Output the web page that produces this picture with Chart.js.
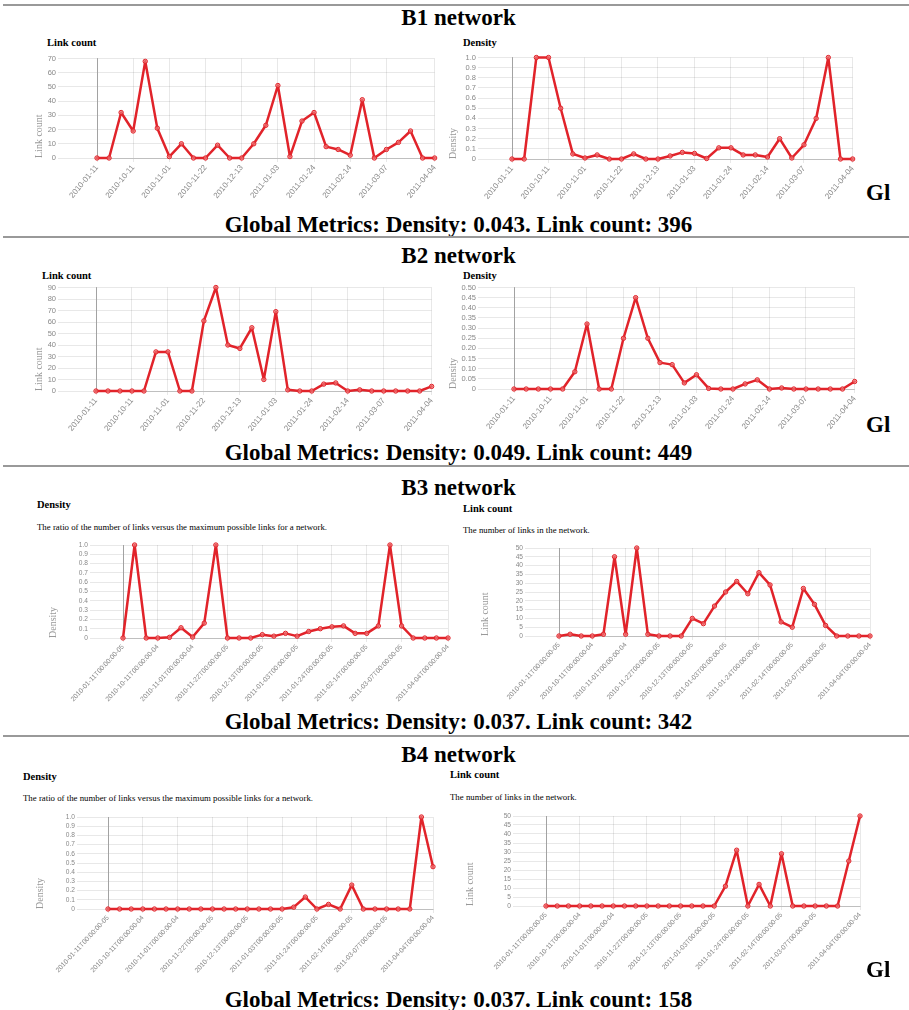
<!DOCTYPE html>
<html>
<head>
<meta charset="utf-8">
<script src="https://cdn.jsdelivr.net/npm/chart.js@4.4.0/dist/chart.umd.min.js"></script>
<style>
  body { margin: 0; background: #fff; }
  #page { position: relative; width: 909px; height: 1010px; overflow: hidden; font-family: "Liberation Serif", "Times New Roman", serif; color: #000; }
  .rule { position: absolute; left: 3px; width: 906px; height: 2px; background: #999; }
  .head { position: absolute; left: 4px; width: 909px; text-align: center; font-weight: bold; font-size: 23px; line-height: 22px; white-space: nowrap; }
  .gl { position: absolute; left: 866px; font-weight: bold; font-size: 23px; line-height: 22px; }
  .ct { position: absolute; font-weight: bold; font-size: 10.5px; line-height: 11px; white-space: nowrap; }
  .desc { position: absolute; font-size: 8.8px; line-height: 9px; white-space: nowrap; }
  canvas { position: absolute; }
</style>
</head>
<body>
<div id="page">
  <div class="rule" style="top:4px"></div>
  <div class="head" style="top:7px">B1 network</div>
  <div class="ct" style="left:47px;top:37px">Link count</div>
  <div class="ct" style="left:463px;top:37px">Density</div>
  <canvas id="b1l"></canvas>
  <canvas id="b1r"></canvas>
  <div class="gl" style="top:182px">Gl</div>
  <div class="head" style="top:214px">Global Metrics: Density: 0.043. Link count: 396</div>

  <div class="rule" style="top:236px"></div>
  <div class="head" style="top:245px">B2 network</div>
  <div class="ct" style="left:42px;top:270px">Link count</div>
  <div class="ct" style="left:463px;top:270px">Density</div>
  <canvas id="b2l"></canvas>
  <canvas id="b2r"></canvas>
  <div class="gl" style="top:414px">Gl</div>
  <div class="head" style="top:442px">Global Metrics: Density: 0.049. Link count: 449</div>

  <div class="rule" style="top:465px"></div>
  <div class="head" style="top:477px">B3 network</div>
  <div class="ct" style="left:37px;top:499px">Density</div>
  <div class="desc" style="left:37px;top:523px">The ratio of the number of links versus the maximum possible links for a network.</div>
  <div class="ct" style="left:463px;top:503px">Link count</div>
  <div class="desc" style="left:463px;top:526px">The number of links in the network.</div>
  <canvas id="b3l"></canvas>
  <canvas id="b3r"></canvas>
  <div class="head" style="top:711px">Global Metrics: Density: 0.037. Link count: 342</div>

  <div class="rule" style="top:735px"></div>
  <div class="head" style="top:744px">B4 network</div>
  <div class="ct" style="left:23px;top:771px">Density</div>
  <div class="desc" style="left:23px;top:794px">The ratio of the number of links versus the maximum possible links for a network.</div>
  <div class="ct" style="left:450px;top:769px">Link count</div>
  <div class="desc" style="left:450px;top:793px">The number of links in the network.</div>
  <canvas id="b4l"></canvas>
  <canvas id="b4r"></canvas>
  <div class="gl" style="top:959px">Gl</div>
  <div class="head" style="top:989px">Global Metrics: Density: 0.037. Link count: 158</div>
</div>

<script>
// weekly snapshots (x axis)
const weekDates = [
  '2010-01-11', '2010-09-27', '2010-10-04', '2010-10-11', '2010-10-18', '2010-10-25',
  '2010-11-01', '2010-11-08', '2010-11-15', '2010-11-22', '2010-11-29', '2010-12-06',
  '2010-12-13', '2010-12-20', '2010-12-27', '2011-01-03', '2011-01-10', '2011-01-17',
  '2011-01-24', '2011-01-31', '2011-02-07', '2011-02-14', '2011-02-21', '2011-02-28',
  '2011-03-07', '2011-03-14', '2011-03-21', '2011-03-28', '2011-04-04'
];
// which x labels are printed
const shownTicks = [0, 3, 6, 9, 12, 15, 18, 21, 24, 28];

const b1Links   = [0, 0, 32, 19, 68, 21, 1, 10, 0, 0, 9, 0, 0, 10, 23, 51, 1, 26, 32, 8, 6, 2, 41, 0, 6, 11, 19, 0, 0];
const b1Density = [0, 0, 1.0, 1.0, 0.5, 0.05, 0.01, 0.04, 0, 0, 0.05, 0, 0, 0.03, 0.065, 0.055, 0.005, 0.11, 0.11, 0.04, 0.04, 0.02, 0.2, 0.01, 0.14, 0.4, 1.0, 0, 0];

const b2Links   = [0, 0, 0, 0, 0, 34, 34, 0, 0, 61, 90, 40, 37, 55, 10, 69, 1, 0, 0, 6, 7, 0, 1, 0, 0, 0, 0, 0, 4];
const b2Density = [0, 0, 0, 0, 0, 0.085, 0.32, 0, 0, 0.25, 0.45, 0.25, 0.13, 0.12, 0.03, 0.07, 0.003, 0, 0, 0.025, 0.045, 0, 0.005, 0, 0, 0, 0, 0, 0.037];

const b3Density = [0, 1.0, 0, 0, 0.007, 0.11, 0.01, 0.16, 1.0, 0, 0, 0, 0.036, 0.02, 0.05, 0.02, 0.07, 0.1, 0.12, 0.13, 0.05, 0.05, 0.13, 1.0, 0.13, 0, 0, 0, 0];
const b3Links   = [0, 1, 0, 0, 1, 45, 1, 50, 1, 0, 0, 0, 10, 7, 17, 25, 31, 24, 36, 29, 8, 5, 27, 18, 6, 0, 0, 0, 0];

const b4Density = [0, 0, 0, 0, 0, 0, 0, 0, 0, 0, 0, 0, 0, 0, 0, 0, 0.02, 0.13, 0, 0.05, 0, 0.26, 0, 0, 0, 0, 0, 1.0, 0.46];
const b4Links   = [0, 0, 0, 0, 0, 0, 0, 0, 0, 0, 0, 0, 0, 0, 0, 0, 11, 31, 0, 12, 0, 29, 0, 0, 0, 0, 0, 25, 50];

// B3/B4 used full timestamps with the local UTC offset
const isDst = d => (d >= '2010-03-14' && d < '2010-11-07') || d >= '2011-03-13';
const isoDates = weekDates.map(d => d + 'T00:00:00' + (isDst(d) ? '-04' : '-05'));

const RED = '#e1232a';
const GRID = 'rgba(0,0,0,0.09)';
const PAD_TOP = 6, PAD_RIGHT = 8;

function drawChart(id, values, labels, box, y) {
  const cv = document.getElementById(id);
  const left = box.titleX - 6;
  const top = box.top - PAD_TOP;
  cv.width = box.x1 - left + PAD_RIGHT;
  cv.height = PAD_TOP + (box.bottom - box.top) + box.axisH;
  cv.style.left = left + 'px';
  cv.style.top = top + 'px';
  const yWidth = box.x0 - left;

  new Chart(cv, {
    type: 'line',
    data: {
      labels: labels,
      datasets: [{
        data: values,
        borderColor: RED,
        borderWidth: 2.5,
        borderJoinStyle: 'round',
        borderCapStyle: 'round',
        pointRadius: 2.2,
        pointBorderWidth: 1,
        pointBorderColor: RED,
        pointBackgroundColor: 'rgba(240,130,130,0.6)',
        tension: 0,
        fill: false,
        clip: false
      }]
    },
    options: {
      responsive: false,
      animation: false,
      events: [],
      layout: { padding: { top: PAD_TOP, right: PAD_RIGHT, left: 0, bottom: 0 } },
      plugins: { legend: { display: false }, tooltip: { enabled: false } },
      scales: {
        x: {
          type: 'category',
          afterFit: s => { s.height = box.axisH; },
          grid: {
            color: c => shownTicks.includes(c.index) ? GRID : 'rgba(0,0,0,0)',
            tickLength: 4
          },
          border: { color: 'rgba(0,0,0,0.18)' },
          ticks: {
            autoSkip: false,
            minRotation: box.rot,
            maxRotation: box.rot,
            padding: 1,
            color: '#888',
            font: { family: 'Liberation Sans', size: box.xFont },
            callback: (v, i) => shownTicks.includes(i) ? labels[i] : ''
          }
        },
        y: {
          min: 0,
          max: y.max,
          afterFit: s => { s.width = yWidth; },
          grid: { color: GRID, tickLength: box.gap },
          border: { color: 'rgba(0,0,0,0.3)' },
          title: {
            display: true,
            text: y.title,
            align: 'start',
            color: '#999',
            padding: 0,
            font: { family: 'Liberation Serif', size: 10 }
          },
          ticks: {
            autoSkip: false,
            stepSize: y.step,
            padding: 2,
            color: '#888',
            font: { family: 'Liberation Sans', size: box.yFont },
            callback: v => v === 0 ? '0' : v.toFixed(y.dec)
          }
        }
      }
    }
  });
}

const linkAxis = (max, step) => ({ title: 'Link count', max: max, step: step, dec: 0 });
const densAxis = (max, step, dec) => ({ title: 'Density', max: max, step: step, dec: dec });

drawChart('b1l', b1Links, weekDates,
  { titleX: 39, x0: 97, x1: 435, top: 58, bottom: 158, gap: 39, axisH: 45, rot: 50, xFont: 8, yFont: 7.5 },
  linkAxis(70, 10));
drawChart('b1r', b1Density, weekDates,
  { titleX: 453, x0: 512, x1: 853, top: 57, bottom: 159, gap: 34, axisH: 45, rot: 50, xFont: 8, yFont: 7.5 },
  densAxis(1, 0.1, 1));
drawChart('b2l', b2Links, weekDates,
  { titleX: 39, x0: 96, x1: 432, top: 287, bottom: 391, gap: 38, axisH: 45, rot: 50, xFont: 8, yFont: 7.5 },
  linkAxis(90, 10));
drawChart('b2r', b2Density, weekDates,
  { titleX: 453, x0: 514, x1: 855, top: 287, bottom: 389, gap: 36, axisH: 45, rot: 50, xFont: 8, yFont: 7.5 },
  densAxis(0.5, 0.05, 2));
drawChart('b3l', b3Density, isoDates,
  { titleX: 53, x0: 123, x1: 448, top: 545, bottom: 638, gap: 33, axisH: 70, rot: 47, xFont: 6.8, yFont: 6.6 },
  densAxis(1, 0.1, 1));
drawChart('b3r', b3Links, isoDates,
  { titleX: 485, x0: 559, x1: 870, top: 548, bottom: 636, gap: 34, axisH: 70, rot: 47, xFont: 6.8, yFont: 6.6 },
  linkAxis(50, 5));
drawChart('b4l', b4Density, isoDates,
  { titleX: 40, x0: 108, x1: 433, top: 817, bottom: 909, gap: 31, axisH: 70, rot: 47, xFont: 6.8, yFont: 6.6 },
  densAxis(1, 0.1, 1));
drawChart('b4r', b4Links, isoDates,
  { titleX: 470, x0: 546, x1: 860, top: 816, bottom: 906, gap: 33, axisH: 70, rot: 47, xFont: 6.8, yFont: 6.6 },
  linkAxis(50, 5));
</script>
</body>
</html>
